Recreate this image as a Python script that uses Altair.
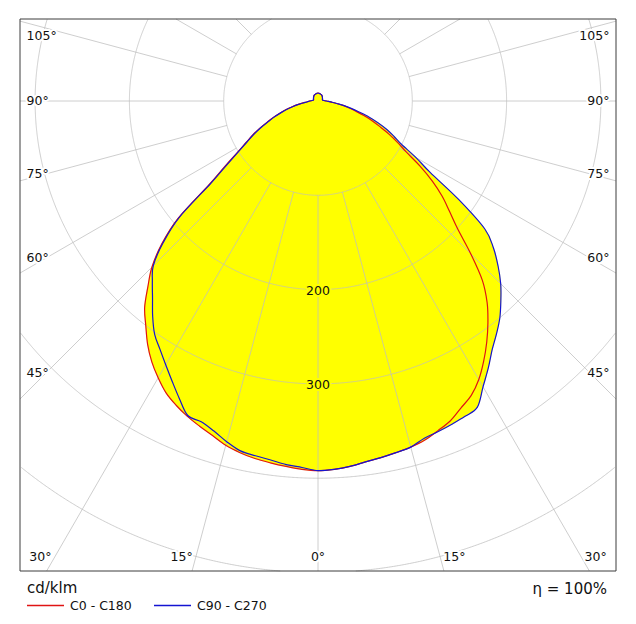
import math
import altair as alt
import numpy as np
import pandas as pd

# ---------------- data ----------------
# gamma: angle from nadir in degrees
GAMMA = [0, 2.5, 5, 7.5, 10, 12.5, 15, 17.5, 20, 22.5, 25, 27.5, 30, 32.5, 35, 37.5,
         40, 42.5, 45, 47.5, 50, 52.5, 55, 57.5, 60, 62.5, 65, 67.5, 70, 72.5, 75,
         77.5, 80, 82.5, 85, 87.5, 90, 95, 100, 110, 120, 135, 150, 165, 180]
# luminous intensity in cd/klm for the four half planes
C0 = [392, 391, 389, 386, 384, 382, 380, 377, 372, 367, 359, 352, 341, 327, 312, 296,
      279, 258, 229, 201, 182, 166, 148, 128, 108, 95, 83, 71, 61, 51, 41,
      34, 27, 20, 14, 11, 9, 6, 5, 5, 5.5, 6.5, 7.5, 8, 8.5]
C180 = [392, 391, 389, 387, 385, 382, 378, 372, 367, 362, 356, 349, 339, 328, 315, 300,
        286, 267, 249, 225, 194, 145, 120, 101, 88, 78, 68, 58, 50, 42, 35,
        28, 22, 17, 12, 10, 9, 6, 5, 5, 5.5, 6.5, 7.5, 8, 8.5]
C90 = [392, 391, 389, 386, 384, 382, 380, 375, 373, 371, 369, 366, 350, 336, 322, 311,
       300, 287, 274, 259, 243, 223, 182, 141, 120, 100, 89, 79, 68, 57, 45,
       36, 28, 20, 15, 11, 9, 6, 5, 5, 5.5, 6.5, 7.5, 8, 8.5]
C270 = [392, 389, 387, 384, 382, 380, 374, 367, 362, 361, 348, 335, 323, 312, 302, 288,
        273, 260, 247, 223, 192, 143, 118, 100, 87, 77, 67, 57, 49, 41, 34,
        27, 21, 16, 12, 10, 9, 6, 5, 5, 5.5, 6.5, 7.5, 8, 8.5]

SERIES = ["C0 - C180", "C90 - C270"]
COLORS = ["#e01414", "#1414d2"]
CIRCLE_VALUES = [100, 200, 300, 400, 500]
VALUE_LABELS = ["200", "300"]
RADIAL_ANGLES = list(range(-165, 181, 15))
SIDE_ANGLES = [45, 60, 75, 90, 105]
BOTTOM_ANGLES = [0, 15, 30]
ETA_TEXT = "η = 100%"
UNIT_TEXT = "cd/klm"

FONT = "DejaVu Sans"
TEXT_COLOR = "#111111"
GRID_COLOR = "#bdbdbd"
FILL_COLOR = "#ffff00"

# ---------------- geometry of the drawing ----------------
S = 0.943                # pixels per cd
CX_PX, CY_PX = 318, 101  # pole position (page pixels)
X0_PX, Y0_PX = 20, 19    # plot origin (page pixels)
W, H = 596, 597
XMIN = -(CX_PX - X0_PX) / S
XMAX = (X0_PX + W - CX_PX) / S
YMAX = (CY_PX - Y0_PX) / S
YMIN = YMAX - H / S
FX = XMAX
FY_TOP = YMAX
FY_BOT = -(571 - CY_PX) / S

xs = alt.Scale(domain=[XMIN, XMAX], nice=False, zero=False)
ys = alt.Scale(domain=[YMIN, YMAX], nice=False, zero=False)


def polar_path(left, right):
    g = np.array(GAMMA, float)
    phi = np.concatenate([-g[::-1], g[1:-1]])
    inten = np.concatenate([np.array(left, float)[::-1], np.array(right, float)[1:-1]])
    rad = np.radians(phi)
    return inten * np.sin(rad), -inten * np.cos(rad)


rows = []
for name, (lft, rgt) in zip(SERIES, [(C180, C0), (C270, C90)]):
    xx, yy = polar_path(lft, rgt)
    for k, (a, b) in enumerate(zip(xx, yy)):
        rows.append({"series": name, "X": a, "Y": b, "idx": k})
curves = pd.DataFrame(rows)


def inside(x, y):
    return abs(x) <= FX + 1e-6 and FY_BOT - 1e-6 <= y <= FY_TOP + 1e-6


crow = []
phis = np.arange(-180, 180.0001, 0.2)
for r in CIRCLE_VALUES:
    seg, prev, k = 0, False, 0
    for p in phis:
        x = r * math.sin(math.radians(p))
        y = -r * math.cos(math.radians(p))
        ins = inside(x, y)
        if ins:
            if not prev:
                seg += 1
            crow.append({"key": f"{r}-{seg}", "X": x, "Y": y, "idx": k})
            k += 1
        prev = ins
circles = pd.DataFrame(crow)

rrow = []
for a in RADIAL_ANGLES:
    dx, dy = math.sin(math.radians(a)), -math.cos(math.radians(a))
    x0, y0 = 100 * dx, 100 * dy
    if not inside(x0, y0):
        continue
    t = float("inf")
    if abs(dx) > 1e-9:
        t = min(t, FX / abs(dx))
    if dy > 1e-9:
        t = min(t, FY_TOP / dy)
    elif dy < -1e-9:
        t = min(t, FY_BOT / dy)
    if t > 101:
        rrow.append({"X": x0, "Y": y0, "X2": t * dx, "Y2": t * dy})
rays = pd.DataFrame(rrow)

# label tables
left_rows, right_rows = [], []
for a in SIDE_ANGLES:
    ra = math.radians(a)
    yv = min(-288 * math.cos(ra) / math.sin(ra), 69)
    left_rows.append({"text": f"{a}°", "X": -309, "Y": yv})
    right_rows.append({"text": f"{a}°", "X": 309, "Y": yv})
bottom_rows = []
for a in BOTTOM_ANGLES:
    if a == 0:
        bottom_rows.append({"text": "0°", "X": 0, "Y": -484})
    else:
        off = 484 * math.tan(math.radians(a)) + 15
        bottom_rows.append({"text": f"{a}°", "X": -off, "Y": -484})
        bottom_rows.append({"text": f"{a}°", "X": off, "Y": -484})
value_rows = [{"text": v, "X": 0, "Y": -float(v) - 1.5} for v in VALUE_LABELS]
eta_rows = [{"text": ETA_TEXT, "X": (607 - CX_PX) / S, "Y": -(589 - CY_PX) / S}]
unit_rows = [{"text": UNIT_TEXT, "X": (27 - CX_PX) / S, "Y": -(588 - CY_PX) / S}]
frame_rows = [{"X": -FX, "X2": FX, "Y": FY_BOT, "Y2": FY_TOP}]

X = alt.X("X:Q", scale=xs, axis=None)
Y = alt.Y("Y:Q", scale=ys, axis=None)

fill = alt.Chart(curves).mark_line(
    fill=FILL_COLOR, stroke=FILL_COLOR, strokeWidth=0.5, interpolate="cardinal-closed"
).encode(x=X, y=Y, detail="series:N", order="idx:Q")

grid_c = alt.Chart(circles).mark_line(
    color=GRID_COLOR, strokeWidth=1, opacity=0.75
).encode(x=X, y=Y, detail="key:N", order="idx:Q")

grid_r = alt.Chart(rays).mark_rule(
    color=GRID_COLOR, strokeWidth=1, opacity=0.75
).encode(x=X, y=Y, x2="X2:Q", y2="Y2:Q")

outline = alt.Chart(curves).mark_line(strokeWidth=1.2, interpolate="cardinal-closed").encode(
    x=X, y=Y, order="idx:Q",
    color=alt.Color(
        "series:N",
        scale=alt.Scale(domain=SERIES, range=COLORS),
        legend=alt.Legend(
            title=None, orient="none", legendX=6, legendY=567,
            direction="horizontal", symbolType="stroke", symbolSize=1369,
            symbolStrokeWidth=1.6, labelFont=FONT,
            labelFontSize=12.5, labelColor=TEXT_COLOR, labelOffset=5,
            columnPadding=18, padding=0,
        ),
    ),
)


def text_layers(rows_, align, halo, size=12.5):
    base = alt.Chart(pd.DataFrame(rows_)).encode(x=X, y=Y, text="text:N")
    h = base.mark_text(align=align, baseline="middle", font=FONT, fontSize=size,
                       fill=halo, stroke=halo, strokeWidth=4, strokeJoin="round")
    t = base.mark_text(align=align, baseline="middle", font=FONT, fontSize=size,
                       color=TEXT_COLOR)
    return [h, t]


labels = (text_layers(left_rows, "left", "#ffffff")
          + text_layers(right_rows, "right", "#ffffff")
          + text_layers(bottom_rows, "center", "#ffffff")
          + text_layers(value_rows, "center", FILL_COLOR))

eta = alt.Chart(pd.DataFrame(eta_rows)).mark_text(
    align="right", baseline="middle", font=FONT, fontSize=15, color=TEXT_COLOR
).encode(x=X, y=Y, text="text:N")

unit = alt.Chart(pd.DataFrame(unit_rows)).mark_text(
    align="left", baseline="middle", font=FONT, fontSize=15, color=TEXT_COLOR
).encode(x=X, y=Y, text="text:N")

frame = alt.Chart(pd.DataFrame(frame_rows)).mark_rect(
    fill=None, stroke="#3c3c3c", strokeWidth=1
).encode(x=X, x2="X2:Q", y=Y, y2="Y2:Q")

chart = alt.layer(fill, grid_c, grid_r, outline, *labels, eta, unit, frame).properties(
    width=W, height=H,
    padding={"left": 12, "top": 11, "right": 4, "bottom": 4},
    autosize=alt.AutoSizeParams(type="none"),
).configure_view(stroke=None)

chart.save("out.html", embed_options={"renderer": "svg", "actions": False})
